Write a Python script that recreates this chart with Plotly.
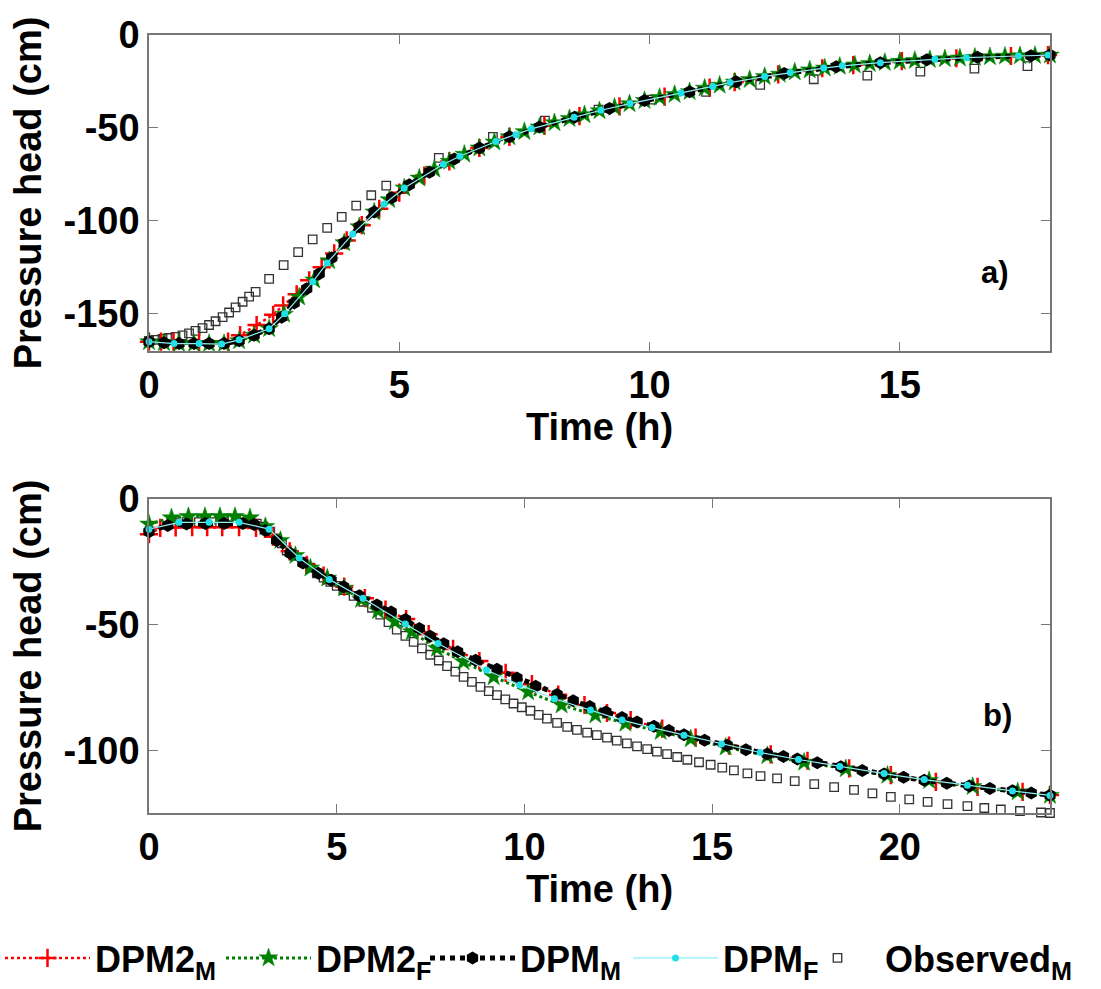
import plotly.graph_objects as go

# ---------------- Panel a) data ----------------
a_obs_t = [0, 0.13, 0.27, 0.40, 0.53, 0.67, 0.80, 0.93, 1.07, 1.20, 1.33, 1.47, 1.60, 1.73, 1.87, 2.00, 2.13,
           2.40, 2.69, 2.98, 3.27, 3.56, 3.85, 4.14, 4.44, 4.74, 5.79, 6.87, 7.91, 8.98, 10.05, 11.13,
           12.21, 13.28, 14.35, 15.41, 16.49, 17.55]
a_obs_h = [-164.5, -164, -163.5, -163, -162.4, -161.6, -160.5, -159.2, -157.7, -156, -154, -151.8, -149.3,
           -146.5, -143.5, -140.7, -138.2, -131.2, -123.8, -116.8, -110, -103.8, -97.8, -91.8, -86.2, -81,
           -66.1, -54.8, -46.1, -40.1, -34.8, -30.6, -26.8, -23.8, -21.9, -19.7, -18.1, -16.7]

a_dpm2m_t = [0, 0.24, 0.49, 1.0, 1.58, 1.82, 2.15, 2.48, 2.68, 2.95, 3.2, 3.45, 3.7, 3.95, 4.25, 4.6, 5.0,
             5.5, 6.0, 6.6, 7.2, 7.9, 8.6, 9.4, 10.3, 11.2, 11.7, 12.57, 13.45, 14.07, 15.04, 16.13, 17.22, 17.96]
a_dpm2m_h = [-165, -165, -165, -165.3, -165, -161.5, -156, -150.5, -145.5, -139.5, -132, -125, -117.5, -110.5,
             -102.3, -93.5, -84.8, -75.6, -68, -60.8, -54.8, -48.8, -43.6, -38.4, -33.1, -28.3, -25.3, -21.2,
             -17.9, -16.2, -14.1, -12.5, -11.3, -10.8]

a_dpm2f_t = [0, 0.3, 0.6, 0.9, 1.2, 1.5, 1.8, 2.1, 2.4, 2.7, 3.0, 3.3, 3.6, 3.9, 4.2, 4.5, 4.8, 5.1, 5.4,
             5.7, 6.0, 6.3, 6.6, 6.9, 7.2, 7.5, 7.8, 8.1, 8.4, 8.7, 9.0, 9.3, 9.6, 9.9, 10.2, 10.5, 10.8,
             11.1, 11.4, 11.7, 12.0, 12.3, 12.6, 12.9, 13.2, 13.5, 13.8, 14.1, 14.4, 14.7, 15.0, 15.3,
             15.6, 15.9, 16.2, 16.5, 16.8, 17.1, 17.4, 17.7, 18.0]
a_dpm2f_h = [-165, -165.5, -166, -166, -166, -166, -164.5, -161.5, -158, -150.2, -141, -131.8, -121.5,
             -111.8, -103.2, -95.2, -88.6, -82.3, -77, -72.2, -68, -64.2, -60.8, -57.6, -54.8, -52, -49.5,
             -47.2, -45, -42.9, -40.8, -38.9, -37, -35.3, -33.6, -32, -30.5, -28.6, -27, -25.3, -24,
             -22.4, -21.1, -19.9, -18.8, -17.8, -16.9, -16.1, -15.4, -14.8, -14.2, -13.7, -13.2, -12.8,
             -12.4, -12, -11.7, -11.4, -11.2, -11, -10.8]

a_dpmm_t = [0, 0.3, 0.6, 0.9, 1.2, 1.5, 1.8, 2.1, 2.4, 2.65, 2.9, 3.15, 3.4, 3.65, 3.9, 4.2, 4.5, 4.85,
            5.2, 5.6, 6.1, 6.6, 7.2, 7.8, 8.5, 9.2, 9.9, 10.8, 11.73, 12.69, 13.73, 14.61, 15.54, 16.55,
            17.62, 18.0]
a_dpmm_h = [-165, -165.5, -166, -166, -166, -166, -164.5, -161.5, -158, -151.8, -144.2, -136.5, -128.4,
            -119.8, -111.8, -103.2, -95.2, -87.6, -80.5, -73.8, -66.7, -60.8, -54.8, -49.5, -44.3, -39.5,
            -35.3, -30.5, -25.2, -20.7, -17.1, -14.9, -13.3, -12, -11.1, -10.8]

a_dpmf_t = [0, 0.5, 1.0, 1.45, 1.8, 2.40, 2.71, 3.27, 3.56, 4.07, 4.70, 5.10, 5.88, 6.21, 6.93, 7.33, 7.64,
            8.49, 9.03, 9.61, 10.63, 11.26, 11.61, 12.3, 12.81, 13.48, 13.85, 14.61, 15.70, 16.33, 17.37, 17.96]
a_dpmf_h = [-165, -166, -166, -166.3, -164, -158, -150, -132.8, -122.6, -107, -90.9, -82.3, -69.5, -65.2,
            -57.3, -53.6, -50.5, -44.3, -40.5, -36.9, -31.2, -27.7, -25.6, -22.3, -20.2, -17.8, -16.6,
            -14.9, -13.1, -12.2, -11.3, -10.8]

# ---------------- Panel b) data ----------------
b_obs_t = [0.67, 1.0, 1.33, 1.67, 2.0, 2.33, 2.67, 2.87, 3.05, 3.23, 3.40, 3.54, 3.67, 3.85, 4.11, 4.29,
           4.47, 4.65, 4.83, 5.0, 5.18, 5.45, 5.71, 5.94, 6.16, 6.38, 6.6, 6.83, 7.05, 7.27, 7.49, 7.72,
           7.94, 8.16, 8.38, 8.6, 8.83, 9.05, 9.27, 9.49, 9.71, 9.93, 10.16, 10.38, 10.6, 10.87, 11.14,
           11.4, 11.67, 11.93, 12.2, 12.46, 12.73, 13.0, 13.27, 13.53, 13.8, 14.07, 14.34, 14.65, 14.96,
           15.27, 15.58, 15.94, 16.29, 16.73, 17.2, 17.72, 18.25, 18.78, 19.27, 19.76, 20.25, 20.74,
           21.27, 21.8, 22.25, 22.69, 23.2, 23.76, 24.0]
b_obs_h = [-9.3, -9.2, -9.2, -9.2, -9.2, -9.3, -9.5, -9.8, -11, -13, -15.7, -17.7, -20.5, -22.5, -25,
           -27.3, -29.6, -31.3, -33, -34.6, -36.3, -38.6, -40.9, -43.3, -46, -49, -52, -54.5, -56.9,
           -59.5, -62, -64.3, -66.5, -68.7, -70.8, -72.8, -74.8, -76.5, -78.1, -79.8, -81.4, -82.9,
           -84.3, -85.9, -87.4, -89.1, -90.7, -91.9, -93, -94, -95, -96.2, -97.3, -98.5, -99.6, -100.6,
           -101.6, -102.7, -103.8, -104.8, -105.8, -106.9, -108, -109.2, -110.3, -111.2, -112.3, -113.5,
           -114.7, -115.8, -117.2, -118.6, -119.6, -120.6, -121.5, -122.3, -123, -123.6, -124.2, -124.8,
           -125]

b_dpm2m_t = [0, 0.3, 0.71, 1.15, 1.55, 1.95, 2.4, 2.85, 3.3, 3.75, 4.2, 4.65, 5.2, 5.75, 6.3, 6.85, 7.45,
             8.1, 8.8, 9.5, 10.2, 10.9, 11.6, 12.2, 12.83, 13.67, 14.56, 15.45, 16.56, 17.54, 18.65, 19.76,
             20.96, 22.07, 23.27, 24.0]
b_dpm2m_h = [-14, -11.5, -11.3, -11.2, -11.2, -11.2, -11.2, -11.5, -15, -20.8, -26.2, -30.5, -34.9, -39.5,
             -44, -47.8, -53.8, -59.7, -64.5, -69.2, -73.7, -77.9, -82, -85.2, -88, -91.4, -95, -98.2,
             -101.7, -104.2, -107.2, -109.9, -112.6, -114.6, -116.6, -117.8]

b_dpm2f_t = [0, 0.6, 1.05, 1.49, 1.89, 2.29, 2.69, 3.1, 3.5, 3.9, 4.3, 4.75, 5.2, 5.65, 6.1, 6.55, 7.0,
             7.67, 8.38, 9.18, 10.1, 10.99, 11.89, 12.69, 13.63, 14.43, 15.36, 16.47, 17.45, 18.56, 19.67,
             20.78, 21.94, 23.14, 24.0]
b_dpm2f_h = [-10, -7.5, -7, -7, -7, -7, -7.5, -11, -16.5, -22.5, -27.5, -31.5, -35.5, -40, -44.5, -48.8,
             -52.9, -59.5, -64.8, -70.8, -76.8, -82, -86, -89.3, -92.6, -95.5, -98.8, -102.2, -104.8,
             -107.4, -110, -112.1, -114.5, -116.6, -118]

b_dpmm_t = [0, 0.5, 1, 1.5, 2, 2.5, 2.8, 3.1, 3.4, 3.76, 4.1, 4.51, 4.85, 5.18, 5.6, 6.07, 6.45, 6.83,
            7.2, 7.49, 7.85, 8.22, 8.7, 9.27, 9.8, 10.3, 10.87, 11.3, 11.74, 12.17, 12.6, 13.0, 13.45,
            13.85, 14.25, 14.8, 15.4, 15.9, 16.47, 16.9, 17.27, 17.8, 18.43, 19.0, 19.58, 20.1, 20.65,
            21.25, 21.85, 22.4, 23.0, 23.5, 24.0]
b_dpmm_h = [-13, -10.5, -10, -9.8, -9.8, -9.8, -10.2, -12.5, -16.5, -21.6, -25.5, -29.6, -32.3, -34.9,
            -38.5, -42.2, -45, -48, -51.6, -54.6, -57.6, -60.8, -64.2, -67.8, -71.3, -74.5, -77.8, -80.3,
            -82.6, -84.8, -87, -88.8, -90.5, -92.2, -93.8, -96, -98, -99.8, -101.5, -102.5, -103.5, -105,
            -106.6, -108.1, -109.5, -110.8, -112, -113.2, -114.3, -115.2, -116.1, -117, -117.9]

b_dpmf_t = [0, 0.8, 1.6, 2.4, 3.2, 4.0, 4.8, 5.7, 6.83, 7.7, 8.99, 9.87, 10.8, 11.76, 12.6, 13.4, 14.25,
            15.25, 16.28, 17.3, 18.4, 19.58, 20.65, 21.8, 23.0, 24.0]
b_dpmf_h = [-12, -9.3, -9.3, -9.3, -12, -23.5, -32, -39.5, -49.8, -57.5, -68.1, -74, -79.5, -84, -88, -91,
            -94, -97.5, -100.9, -103.7, -106.5, -109.3, -111.7, -114, -116.2, -118]

# ---------------- Axes / labels ----------------
a_xticks = [0, 5, 10, 15]
a_xticktext = ["0", "5", "10", "15"]
a_yticks = [0, -50, -100, -150]
a_yticktext = ["0", "-50", "-100", "-150"]
b_xticks = [0, 5, 10, 15, 20]
b_xticktext = ["0", "5", "10", "15", "20"]
b_yticks = [0, -50, -100]
b_yticktext = ["0", "-50", "-100"]

series_keys = ["dpm2m", "dpm2f", "dpmm", "dpmf", "obs"]
series_names = ["DPM2<sub>M</sub>", "DPM2<sub>F</sub>", "DPM<sub>M</sub>", "DPM<sub>F</sub>",
                "Observed<sub>M</sub>"]

FONT = "Liberation Sans, Arial, sans-serif"
W, H = 1101, 989

styles = {
    "obs": dict(mode="markers", marker=dict(symbol="square-open", size=8.5, color="#333333",
                                            line=dict(width=1.3, color="#333333"))),
    "dpm2m": dict(mode="lines+markers", line=dict(color="#ff0000", width=2.5, dash="dot"),
                  marker=dict(symbol="cross-thin-open", size=13, color="#ff0000",
                              line=dict(width=2.5, color="#ff0000"))),
    "dpm2f": dict(mode="lines+markers", line=dict(color="#008000", width=3, dash="dot"),
                  marker=dict(symbol="star", size=14, color="#008000",
                              line=dict(width=0.5, color="#008000"))),
    "dpmm": dict(mode="lines+markers", line=dict(color="#000000", width=5, dash="dot"),
                 marker=dict(symbol="hexagon", size=13, color="#000000")),
    "dpmf": dict(mode="lines+markers", line=dict(color="#8ef0f5", width=1.2),
                 marker=dict(symbol="circle", size=7, color="#22e0e8")),
}

# legend ids and their left positions (px) so that entries sit as in the reference
legend_ids = {"dpm2m": "legend", "dpm2f": "legend2", "dpmm": "legend3", "dpmf": "legend4", "obs": "legend5"}
legend_x_px = {"legend": 0, "legend2": 221, "legend3": 425, "legend4": 628, "legend5": 790}

fig = go.Figure()

panel_data = [
    ("x", "y", {"obs": (a_obs_t, a_obs_h), "dpm2m": (a_dpm2m_t, a_dpm2m_h), "dpm2f": (a_dpm2f_t, a_dpm2f_h),
                "dpmm": (a_dpmm_t, a_dpmm_h), "dpmf": (a_dpmf_t, a_dpmf_h)}),
    ("x2", "y2", {"obs": (b_obs_t, b_obs_h), "dpm2m": (b_dpm2m_t, b_dpm2m_h), "dpm2f": (b_dpm2f_t, b_dpm2f_h),
                  "dpmm": (b_dpmm_t, b_dpmm_h), "dpmf": (b_dpmf_t, b_dpmf_h)}),
]
draw_order = ["obs", "dpm2m", "dpm2f", "dpmm", "dpmf"]

for pi, (xa, ya, sets) in enumerate(panel_data):
    for k in draw_order:
        tt, hh = sets[k]
        fig.add_trace(go.Scatter(x=tt, y=hh, xaxis=xa, yaxis=ya,
                                 name=series_names[series_keys.index(k)],
                                 legend=legend_ids[k], legendgroup=k, showlegend=(pi == 0),
                                 cliponaxis=False, **styles[k]))

xl, xr = 149 / W, 1050 / W
axis_common = dict(showline=True, linecolor="#777777", linewidth=1.5, mirror="ticks", ticks="inside",
                   ticklen=9, tickcolor="#777777", tickwidth=1.2, showgrid=False, zeroline=False,
                   tickfont=dict(family=FONT, size=38, color="black", weight="bold"),
                   automargin=False)
title_font = dict(family=FONT, size=38, color="black", weight="bold")
legend_font = dict(family=FONT, size=36, color="black", weight="bold")

legend_layout = {}
for lid, px in legend_x_px.items():
    legend_layout[lid] = dict(orientation="h", x=px / W, xanchor="left", y=1 - 958 / H, yanchor="middle",
                              font=legend_font, itemwidth=85, bgcolor="rgba(0,0,0,0)")

fig.update_layout(
    width=W, height=H, margin=dict(l=0, r=0, t=0, b=0, autoexpand=False),
    paper_bgcolor="white", plot_bgcolor="white",
    xaxis=dict(domain=[xl, xr], range=[0, 18], anchor="y", tickvals=a_xticks, ticktext=a_xticktext,
               title=dict(text="Time (h)", font=title_font, standoff=2), ticklabelstandoff=0,
               **axis_common),
    yaxis=dict(domain=[1 - 351 / H, 1 - 35 / H], range=[-170, 0], anchor="x", tickvals=a_yticks,
               ticktext=a_yticktext, title=dict(text="Pressure head (cm)", font=title_font, standoff=10),
               ticklabelstandoff=0, **axis_common),
    xaxis2=dict(domain=[xl, xr], range=[0, 24], anchor="y2", tickvals=b_xticks, ticktext=b_xticktext,
                title=dict(text="Time (h)", font=title_font, standoff=0), ticklabelstandoff=0,
                **axis_common),
    yaxis2=dict(domain=[1 - 813 / H, 1 - 499 / H], range=[-125, 0], anchor="x2", tickvals=b_yticks,
                ticktext=b_yticktext, title=dict(text="Pressure head (cm)", font=title_font, standoff=10),
                ticklabelstandoff=0, **axis_common),
    annotations=[
        dict(text="a)", xref="paper", yref="paper", x=995 / W, y=1 - 273 / H, xanchor="center",
             yanchor="middle", showarrow=False,
             font=dict(family=FONT, size=31, color="black", weight="bold")),
        dict(text="b)", xref="paper", yref="paper", x=997 / W, y=1 - 715 / H, xanchor="center",
             yanchor="middle", showarrow=False,
             font=dict(family=FONT, size=31, color="black", weight="bold")),
    ],
    **legend_layout,
)

fig.write_html("out.html")
